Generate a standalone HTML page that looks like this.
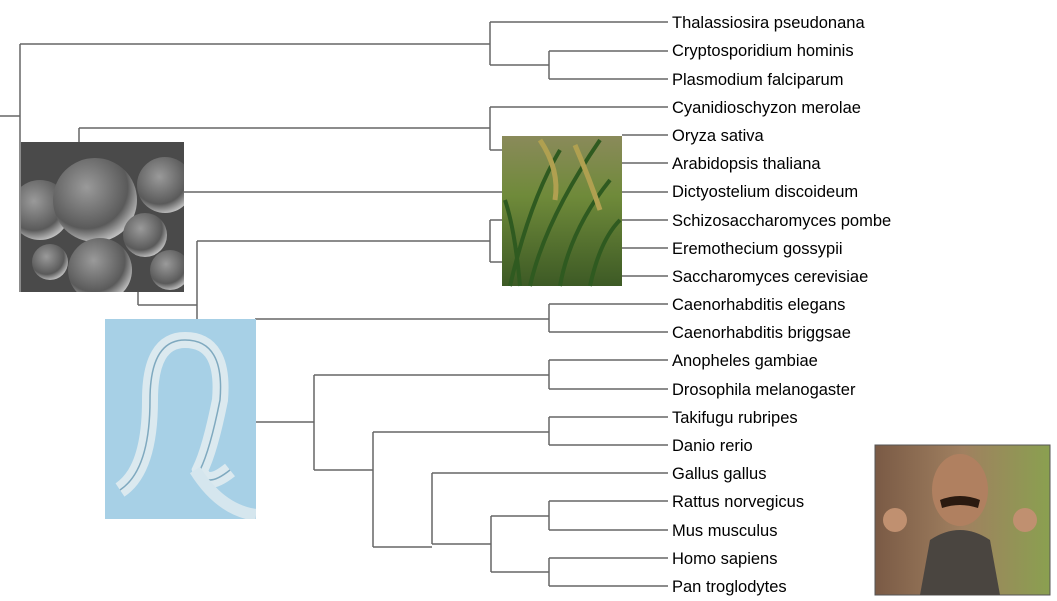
<!DOCTYPE html>
<html><head><meta charset="utf-8"><style>
html,body{margin:0;padding:0;background:#fff;width:1057px;height:601px;overflow:hidden}
svg{display:block}
text{font-family:"Liberation Sans",Arial,sans-serif;font-size:16.5px;fill:#000}
</style></head><body>
<svg width="1057" height="601" viewBox="0 0 1057 601">
<defs>
<radialGradient id="ball" cx="0.4" cy="0.35" r="0.7"><stop offset="0" stop-color="#9a9a9a"/><stop offset="0.7" stop-color="#5a5a5a"/><stop offset="1" stop-color="#cfcfcf"/></radialGradient>
<linearGradient id="plant" x1="0" y1="0" x2="0" y2="1"><stop offset="0" stop-color="#8a8a5a"/><stop offset="0.4" stop-color="#6f8a3a"/><stop offset="1" stop-color="#3d5a25"/></linearGradient>
<linearGradient id="borat" x1="0" y1="0" x2="1" y2="0"><stop offset="0" stop-color="#7a5a45"/><stop offset="0.5" stop-color="#a08060"/><stop offset="1" stop-color="#8aa050"/></linearGradient>
<clipPath id="yc"><rect x="21" y="142" width="163" height="150"/></clipPath>
<clipPath id="wc"><rect x="105" y="319" width="151" height="200"/></clipPath>
</defs>
<g stroke="#666" stroke-width="1.5" fill="none">
<path d="M0 116H20M20 44V292M20 44H490M490 22V65M490 22H668M490 65H549M549 51V79M549 51H668M549 79H668"/>
<path d="M490 107V150M490 107H668M79 128H490M79 128V142M490 150H502M184 192H502"/>
<path d="M622 135H668M622 163H668M622 192H668M622 220H668M622 248H668M622 276H668"/>
<path d="M490 220V262M490 220H502M490 262H502M197 241H490M197 241V319M138 305H197M138 292V305"/>
<path d="M255 319H549M549 304V332M549 304H668M549 332H668"/>
<path d="M256 422H314M314 375V470M314 375H549M549 360V389M549 360H668M549 389H668"/>
<path d="M314 470H373M373 432V547M373 432H549M549 417V445M549 417H668M549 445H668"/>
<path d="M373 547H432M432 473V544M432 473H668M432 544H491M491 516V572M491 516H549M549 501V530M549 501H668M549 530H668M491 572H549M549 558V586M549 558H668M549 586H668"/>
</g>
<g clip-path="url(#yc)">
<rect x="21" y="142" width="163" height="150" fill="#4a4a4a"/>
<circle cx="40" cy="210" r="30" fill="url(#ball)"/>
<circle cx="95" cy="200" r="42" fill="url(#ball)"/>
<circle cx="165" cy="185" r="28" fill="url(#ball)"/>
<circle cx="145" cy="235" r="22" fill="url(#ball)"/>
<circle cx="50" cy="262" r="18" fill="url(#ball)"/>
<circle cx="100" cy="270" r="32" fill="url(#ball)"/>
<circle cx="170" cy="270" r="20" fill="url(#ball)"/>
</g>
<g>
<rect x="502" y="136" width="120" height="150" fill="url(#plant)"/>
<path d="M510 286 Q530 200 560 150 M530 286 Q545 220 600 140 M560 286 Q570 230 610 180 M520 286 Q515 230 505 200 M590 286 Q600 240 620 220" stroke="#2f5a20" stroke-width="4" fill="none"/>
<path d="M540 140 Q560 170 555 200 M575 145 Q590 180 600 210" stroke="#b0a050" stroke-width="5" fill="none"/>
</g>
<g clip-path="url(#wc)">
<rect x="105" y="319" width="151" height="200" fill="#a7d0e6"/>
<path d="M120 490 Q150 470 150 400 Q150 340 185 340 Q225 340 220 400 Q210 450 200 470 Q205 490 230 470" stroke="#dbe9ef" stroke-width="16" fill="none"/>
<path d="M120 490 Q150 470 150 400 Q150 340 185 340 Q225 340 220 400 Q210 450 200 470 Q205 490 230 470" stroke="#7fa9bf" stroke-width="1.5" fill="none"/>
<path d="M195 470 Q220 510 256 515" stroke="#d5e6ee" stroke-width="12" fill="none"/>
</g>
<g>
<rect x="875" y="445" width="175" height="150" fill="url(#borat)"/>
<rect x="875" y="445" width="175" height="150" fill="none" stroke="#555" stroke-width="1"/>
<ellipse cx="960" cy="490" rx="28" ry="36" fill="#b08060"/>
<path d="M940 500 Q960 492 980 500 L978 508 Q960 502 942 508Z" fill="#2a1a10"/>
<path d="M930 540 Q960 520 990 540 L1000 595 L920 595Z" fill="#4a4540"/>
<circle cx="895" cy="520" r="12" fill="#c09070"/><circle cx="1025" cy="520" r="12" fill="#c09070"/>
</g>
<g>
<text x="672" y="28">Thalassiosira pseudonana</text>
<text x="672" y="56">Cryptosporidium hominis</text>
<text x="672" y="85">Plasmodium falciparum</text>
<text x="672" y="113">Cyanidioschyzon merolae</text>
<text x="672" y="141">Oryza sativa</text>
<text x="672" y="169">Arabidopsis thaliana</text>
<text x="672" y="197">Dictyostelium discoideum</text>
<text x="672" y="226">Schizosaccharomyces pombe</text>
<text x="672" y="254">Eremothecium gossypii</text>
<text x="672" y="282">Saccharomyces cerevisiae</text>
<text x="672" y="310">Caenorhabditis elegans</text>
<text x="672" y="338">Caenorhabditis briggsae</text>
<text x="672" y="366">Anopheles gambiae</text>
<text x="672" y="395">Drosophila melanogaster</text>
<text x="672" y="423">Takifugu rubripes</text>
<text x="672" y="451">Danio rerio</text>
<text x="672" y="479">Gallus gallus</text>
<text x="672" y="507">Rattus norvegicus</text>
<text x="672" y="536">Mus musculus</text>
<text x="672" y="564">Homo sapiens</text>
<text x="672" y="592">Pan troglodytes</text>
</g>
</svg>
</body></html>
